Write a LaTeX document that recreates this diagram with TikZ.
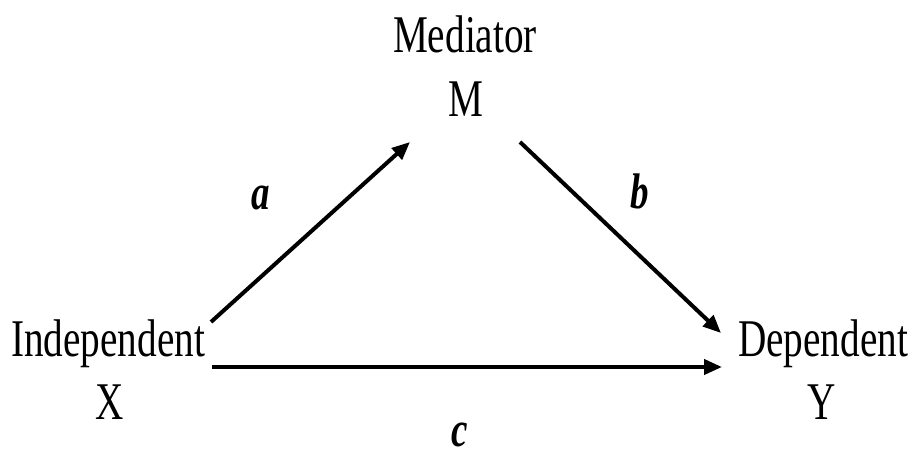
\documentclass[tikz,border=0pt]{standalone}
\usepackage{fontspec}
\setmainfont{Liberation Serif}[FakeStretch=0.74]
\usetikzlibrary{arrows.meta}
\tikzset{
  lbl/.style={anchor=base, inner sep=0pt, font=\fontsize{53}{60}\selectfont},
  pathlbl/.style={anchor=base, inner sep=0pt, font=\fontsize{50}{60}\selectfont\bfseries\itshape},
  conn/.style={line width=4pt, -{Triangle[length=18pt,width=15pt]}}
}
\begin{document}
\begin{tikzpicture}[x=1pt,y=1pt]
\useasboundingbox (0,0) rectangle (912,454);
\node[lbl] (med) at (465,401) {Mediator};
\node[lbl] (m) at (466,337) {M};
\node[lbl] (ind) at (108,97) {Independent};
\node[lbl] (x) at (110,34) {X};
\node[lbl] (dep) at (823,97) {Dependent};
\node[lbl] (y) at (822,34) {Y};
\node[pathlbl] (la) at (261,244) {a};
\node[pathlbl] (lb) at (640,245) {b};
\node[pathlbl] (lc) at (460,7) {c};
\coordinate (xa) at (211,132);
\coordinate (ma) at (410,312);
\coordinate (mb) at (520,312);
\coordinate (yb) at (721,121);
\coordinate (xc) at (212,87);
\coordinate (yc) at (722,87);
\draw[conn] (xa) -- (ma);
\draw[conn] (mb) -- (yb);
\draw[conn] (xc) -- (yc);
\end{tikzpicture}
\end{document}
